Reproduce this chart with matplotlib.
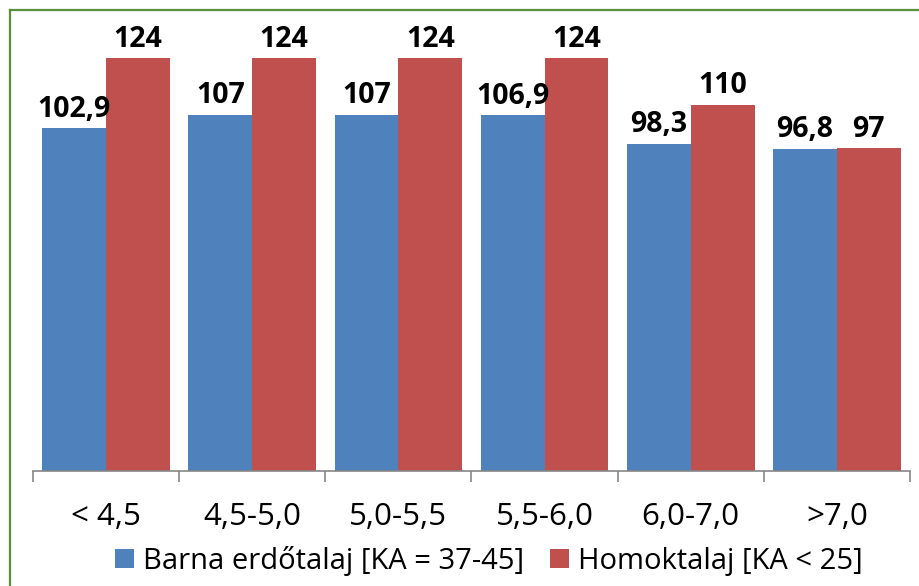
import numpy as np
import matplotlib.pyplot as plt
from matplotlib.lines import Line2D

# Data
categories = ['< 4,5', '4,5-5,0', '5,0-5,5', '5,5-6,0', '6,0-7,0', '>7,0']
barna = [102.9, 107, 107, 106.9, 98.3, 96.8]
homok = [124, 124, 124, 124, 110, 97]
series_names = ['Barna erdőtalaj [KA = 37-45]', 'Homoktalaj [KA < 25]']

blue = '#4F81BD'
red = '#C0504D'


def fmt(v):
    # Hungarian decimal comma, drop trailing ,0
    if float(v).is_integer():
        return str(int(v))
    return f'{v:.1f}'.replace('.', ',')


plt.rcParams['font.family'] = ['Open Sans', 'DejaVu Sans']

fig = plt.figure(figsize=(9.2, 5.86), dpi=100)
fig.patch.set_facecolor('white')
ax = fig.add_axes([33 / 920, 1 - 471 / 586, (910 - 33) / 920, (471 - 20) / 586])

x = np.arange(len(categories))
w = 0.437
b1 = ax.bar(x - w / 2, barna, w, color=blue, label=series_names[0])
b2 = ax.bar(x + w / 2, homok, w, color=red, label=series_names[1])

for bars, vals in ((b1, barna), (b2, homok)):
    for rect, v in zip(bars, vals):
        ax.annotate(fmt(v), (rect.get_x() + rect.get_width() / 2, rect.get_height()),
                    xytext=(0, 3), textcoords='offset points',
                    ha='center', va='bottom', fontsize=20.5, fontweight='bold', color='black')

ax.set_xlim(-0.5, len(categories) - 0.5)
ax.set_ylim(0, 124 * 451 / 413)

for s in ['top', 'left', 'right']:
    ax.spines[s].set_visible(False)
ax.spines['bottom'].set_color('#868686')
ax.spines['bottom'].set_linewidth(1.2)
ax.set_yticks([])

ax.set_xticks(x)
ax.set_xticklabels(categories, fontsize=22.5)
ax.tick_params(axis='x', which='major', length=0, pad=22.5, colors='black')
ax.set_xticks(np.arange(-0.5, len(categories)), minor=True)
ax.tick_params(axis='x', which='minor', length=8, width=1.2, color='#868686')

fig.legend(handles=[b1, b2], loc='center', bbox_to_anchor=(489 / 920, 1 - 561 / 586),
           ncol=2, frameon=False, fontsize=21, handlelength=0.65, handleheight=0.65,
           handletextpad=0.3, columnspacing=0.9, borderpad=0)

# green frame on the top and left edges
green = '#5B8F3A'
fig.add_artist(Line2D([10 / 920, 1], [1 - 10 / 586, 1 - 10 / 586], color=green, lw=1.6, transform=fig.transFigure))
fig.add_artist(Line2D([10 / 920, 10 / 920], [0, 1 - 10 / 586], color=green, lw=1.6, transform=fig.transFigure))

fig.savefig('out.png', dpi=100)
